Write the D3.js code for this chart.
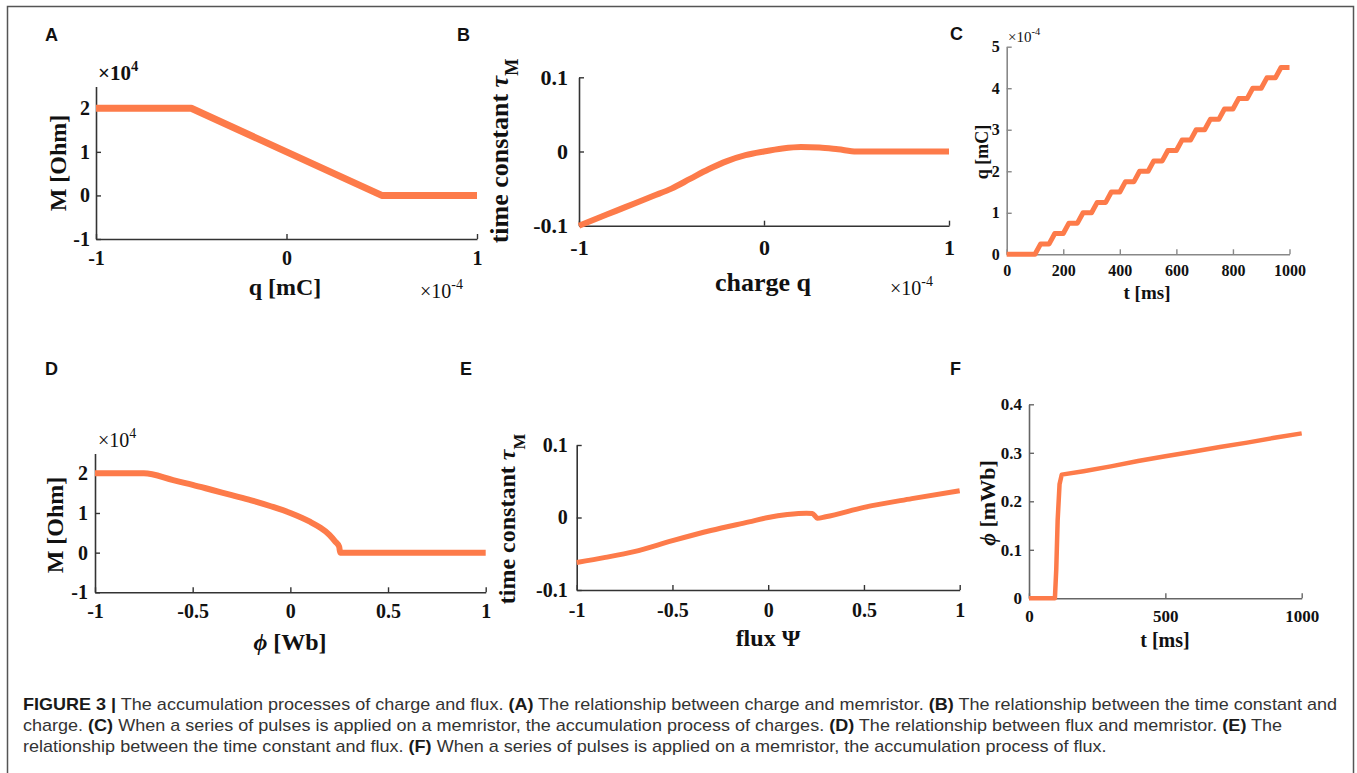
<!DOCTYPE html>
<html>
<head>
<meta charset="utf-8">
<script src="https://cdn.jsdelivr.net/npm/d3@7"></script>
<style>
  body { margin: 0; background: #fff; }
</style>
</head>
<body>
<script>
// A: memristance vs charge (x1e-4 mC, x1e4 Ohm)
const qA = [-1, -0.5, 0.5, 1];
const mA = [2, 2, 0, 0];

// B: time constant vs charge
const qB = [-1, -0.9, -0.8, -0.7, -0.6, -0.5, -0.4, -0.3, -0.2, -0.1, 0, 0.1, 0.2, 0.3, 0.4, 0.5, 0.75, 1];
const tauB = [-0.1, -0.09, -0.08, -0.07, -0.06, -0.05, -0.037, -0.024, -0.013, -0.005, 0, 0.004, 0.006, 0.0055, 0.003, 0, 0, 0];

// C: accumulated charge under pulses (x1e-4 mC)
const tC = [0, 100, 120, 150, 170, 200, 220, 250, 270, 300, 320, 350, 370, 400, 420, 450, 470, 500, 520,
            550, 570, 600, 620, 650, 670, 700, 720, 750, 770, 800, 820, 850, 870, 900, 920, 950, 970, 1000];
const qC = [0, 0, 0.25, 0.25, 0.5, 0.5, 0.75, 0.75, 1, 1, 1.25, 1.25, 1.5, 1.5, 1.75, 1.75, 2, 2, 2.25,
            2.25, 2.5, 2.5, 2.75, 2.75, 3, 3, 3.25, 3.25, 3.5, 3.5, 3.75, 3.75, 4, 4, 4.25, 4.25, 4.5, 4.5];

// D: memristance vs flux (x1e4 Ohm)
const phiD = [-1, -0.75, -0.6, -0.5, -0.4, -0.3, -0.2, -0.1, 0, 0.1, 0.15, 0.2, 0.23, 0.25, 0.255, 0.5, 1];
const mD = [2, 2, 1.83, 1.71, 1.58, 1.45, 1.32, 1.17, 1.0, 0.78, 0.64, 0.45, 0.28, 0.15, 0, 0, 0];

// E: time constant vs flux
const psiE = [-1, -0.85, -0.7, -0.5, -0.3, -0.1, 0, 0.1, 0.2, 0.23, 0.245, 0.255, 0.3, 0.5, 0.75, 1];
const tauE = [-0.062, -0.055, -0.047, -0.032, -0.018, -0.006, 0, 0.004, 0.006, 0.0055, 0.002, -0.001, 0.001, 0.014, 0.026, 0.037];

// F: accumulated flux under pulses
const tF = [0, 95, 100, 105, 112, 120, 200, 300, 400, 500, 600, 700, 800, 900, 1000];
const phiF = [0, 0, 0.06, 0.16, 0.235, 0.255, 0.262, 0.272, 0.283, 0.293, 0.302, 0.312, 0.321, 0.331, 0.34];

// tick values
const ticksA = { x: [-1, 0, 1], y: [-1, 0, 1, 2] };
const ticksB = { x: [-1, 0, 1], y: [-0.1, 0, 0.1] };
const ticksC = { x: [0, 200, 400, 600, 800, 1000], y: [0, 1, 2, 3, 4, 5] };
const ticksD = { x: [-1, -0.5, 0, 0.5, 1], y: [-1, 0, 1, 2] };
const ticksE = { x: [-1, -0.5, 0, 0.5, 1], y: [-0.1, 0, 0.1] };
const ticksF = { x: [0, 500, 1000], y: [0, 0.1, 0.2, 0.3, 0.4] };

const W = 1357, H = 773;
const orange = '#fd7b4a';
const serif = '"Liberation Serif","Times New Roman",Times,serif';
const sans = '"Liberation Sans",Arial,Helvetica,sans-serif';

const svg = d3.select('body').append('svg')
    .attr('width', W)
    .attr('height', H);

// figure frame
svg.append('rect')
    .attr('x', 7.5).attr('y', 6.5)
    .attr('width', 1346).attr('height', 800)
    .attr('fill', 'none')
    .attr('stroke', '#555')
    .attr('stroke-width', 1.5);

const fmt = d => String(+d.toFixed(2));

function drawPanel(p) {
    const x = d3.scaleLinear().domain(p.xDomain).range([p.left, p.right]);
    const y = d3.scaleLinear().domain(p.yDomain).range([p.bottom, p.top]);
    const g = svg.append('g');

    // panel letter
    g.append('text')
        .attr('x', p.letter[1]).attr('y', p.letter[2])
        .attr('font-family', sans).attr('font-weight', 'bold')
        .attr('font-size', 18).attr('fill', '#111')
        .text(p.letter[0]);

    // axes (box off, ticks inward)
    const xPad = p.xBase - p.bottom - 0.71 * p.tickFs;
    const gx = g.append('g')
        .attr('transform', `translate(0,${p.bottom})`)
        .call(d3.axisBottom(x).tickValues(p.ticks.x).tickSizeInner(-5).tickSizeOuter(0)
            .tickPadding(xPad).tickFormat(fmt));
    const gy = g.append('g')
        .attr('transform', `translate(${p.left},0)`)
        .call(d3.axisLeft(y).tickValues(p.ticks.y).tickSizeInner(-5).tickSizeOuter(0)
            .tickPadding(p.yGap).tickFormat(fmt));
    [gx, gy].forEach(a => {
        a.attr('font-family', serif).attr('font-weight', 'bold').attr('font-size', p.tickFs);
        a.select('.domain').attr('stroke', p.axisColor).attr('stroke-width', 1.6);
        a.selectAll('.tick line').attr('stroke', p.axisColor).attr('stroke-width', 1.4);
        a.selectAll('.tick text').attr('fill', '#111');
    });

    // data line
    const pts = p.xs.map((v, i) => [v, p.ys[i]]);
    g.append('path')
        .datum(pts)
        .attr('fill', 'none')
        .attr('stroke', orange)
        .attr('stroke-width', p.lw)
        .attr('stroke-linejoin', 'round')
        .attr('d', d3.line().x(d => x(d[0])).y(d => y(d[1])).curve(p.curve || d3.curveLinear));

    // x label
    const xl = g.append('text')
        .attr('x', p.xLabel.x).attr('y', p.xLabel.y)
        .attr('text-anchor', 'middle')
        .attr('font-family', serif).attr('font-weight', 'bold')
        .attr('font-size', p.xLabel.fs).attr('fill', '#111');
    p.xLabel.parts.forEach(s => addPart(xl, s));

    // y label (rotated)
    const yl = g.append('text')
        .attr('transform', `translate(${p.yLabel.x},${p.yLabel.y}) rotate(-90)`)
        .attr('text-anchor', 'middle')
        .attr('font-family', serif).attr('font-weight', 'bold')
        .attr('font-size', p.yLabel.fs).attr('fill', '#111');
    p.yLabel.parts.forEach(s => addPart(yl, s));

    // exponent notes
    (p.exps || []).forEach(e => {
        const t = g.append('text')
            .attr('x', e.x).attr('y', e.y)
            .attr('font-family', serif)
            .attr('font-weight', e.bold ? 'bold' : 'normal')
            .attr('font-size', e.fs).attr('fill', '#111')
            .text('×10');
        t.append('tspan')
            .attr('dy', -0.45 * e.fs)
            .attr('font-size', e.fs * 0.7)
            .text(e.sup);
    });
}

// label parts: [text, style] where style may be 'i' (italic) or 'sub'
function addPart(el, part) {
    const [s, st] = part;
    const t = el.append('tspan').text(s);
    if (st === 'i') t.attr('font-style', 'italic');
    if (st === 'sub') t.attr('font-size', '70%').attr('baseline-shift', 'sub');
}

drawPanel({
    letter: ['A', 45, 41],
    xs: qA, ys: mA, ticks: ticksA,
    xDomain: [-1, 1], yDomain: [-1, 2.5],
    left: 96, right: 477, bottom: 239, top: 86.5,
    tickFs: 20, xBase: 265, yGap: 6, axisColor: '#333', lw: 7,
    xLabel: { x: 285, y: 295, fs: 24, parts: [['q [mC]']] },
    yLabel: { x: 66, y: 163, fs: 24, parts: [['M [Ohm]']] },
    exps: [{ x: 98, y: 80, fs: 21, sup: '4', bold: true }, { x: 420, y: 298, fs: 20, sup: '-4' }]
});

drawPanel({
    letter: ['B', 457, 41],
    xs: qB, ys: tauB, ticks: ticksB, curve: d3.curveMonotoneX,
    xDomain: [-1, 1], yDomain: [-0.1, 0.1],
    left: 579, right: 949, bottom: 225.7, top: 77.3,
    tickFs: 22, xBase: 255, yGap: 11, axisColor: '#333', lw: 6,
    xLabel: { x: 763, y: 291, fs: 26, parts: [['charge q']] },
    yLabel: { x: 508, y: 151, fs: 26, parts: [['time constant '], ['τ', 'i'], ['M', 'sub']] },
    exps: [{ x: 890, y: 295, fs: 20, sup: '-4' }]
});

drawPanel({
    letter: ['C', 950, 40],
    xs: tC, ys: qC, ticks: ticksC,
    xDomain: [0, 1000], yDomain: [0, 5],
    left: 1006.7, right: 1289.5, bottom: 254.3, top: 46.7,
    tickFs: 16, xBase: 276, yGap: 7, axisColor: '#888', lw: 5,
    xLabel: { x: 1147, y: 299, fs: 19, parts: [['t [ms]']] },
    yLabel: { x: 988, y: 152, fs: 18, parts: [['q [mC]']] },
    exps: [{ x: 1008, y: 42, fs: 15, sup: '-4' }]
});

drawPanel({
    letter: ['D', 45, 375],
    xs: phiD, ys: mD, ticks: ticksD, curve: d3.curveMonotoneX,
    xDomain: [-1, 1], yDomain: [-1, 2.5],
    left: 95, right: 485.7, bottom: 592.3, top: 453.5,
    tickFs: 20, xBase: 618, yGap: 7, axisColor: '#333', lw: 6,
    xLabel: { x: 290, y: 650, fs: 24, parts: [['ϕ', 'i'], [' [Wb]']] },
    yLabel: { x: 63, y: 525, fs: 24, parts: [['M [Ohm]']] },
    exps: [{ x: 98, y: 447, fs: 20, sup: '4' }]
});

drawPanel({
    letter: ['E', 460, 375],
    xs: psiE, ys: tauE, ticks: ticksE, curve: d3.curveMonotoneX,
    xDomain: [-1, 1], yDomain: [-0.1, 0.1],
    left: 576.7, right: 959.7, bottom: 590, top: 445,
    tickFs: 20, xBase: 617, yGap: 9, axisColor: '#333', lw: 5,
    xLabel: { x: 768, y: 646, fs: 24, parts: [['flux Ψ']] },
    yLabel: { x: 515, y: 519, fs: 24, parts: [['time constant '], ['τ', 'i'], ['M', 'sub']] }
});

drawPanel({
    letter: ['F', 950, 375],
    xs: tF, ys: phiF, ticks: ticksF,
    xDomain: [0, 1000], yDomain: [0, 0.4],
    left: 1029, right: 1301.7, bottom: 598.3, top: 404.3,
    tickFs: 17, xBase: 622, yGap: 7, axisColor: '#666', lw: 4.5,
    xLabel: { x: 1165, y: 647, fs: 20, parts: [['t [ms]']] },
    yLabel: { x: 995, y: 503, fs: 22, parts: [['ϕ', 'i'], [' [mWb]']] }
});

// caption
const captionLines = [
    [['FIGURE 3 |', 'b'], [' The accumulation processes of charge and flux. '], ['(A)', 'b'],
     [' The relationship between charge and memristor. '], ['(B)', 'b'],
     [' The relationship between the time constant and']],
    [['charge. '], ['(C)', 'b'], [' When a series of pulses is applied on a memristor, the accumulation process of charges. '],
     ['(D)', 'b'], [' The relationship between flux and memristor. '], ['(E)', 'b'], [' The']],
    [['relationship between the time constant and flux. '], ['(F)', 'b'],
     [' When a series of pulses is applied on a memristor, the accumulation process of flux.']]
];
const capX = 23, capRight = 1337;
const capY = [710, 731, 752];
const cap = svg.append('g')
    .attr('font-family', sans)
    .attr('font-size', 17)
    .attr('fill', '#333');
const capTexts = captionLines.map((line, i) => {
    const t = cap.append('text').attr('x', capX).attr('y', capY[i]);
    line.forEach(([s, st]) => {
        const sp = t.append('tspan').text(s);
        if (st === 'b') sp.attr('font-weight', 'bold').attr('fill', '#1a1a1a');
    });
    return t;
});
// squeeze all lines by the same ratio so line 1 spans the figure width
const ratio = (capRight - capX) / capTexts[0].node().getComputedTextLength();
capTexts.forEach(t => {
    const len = t.node().getComputedTextLength();
    t.attr('textLength', len * ratio).attr('lengthAdjust', 'spacingAndGlyphs');
});
</script>
</body>
</html>
